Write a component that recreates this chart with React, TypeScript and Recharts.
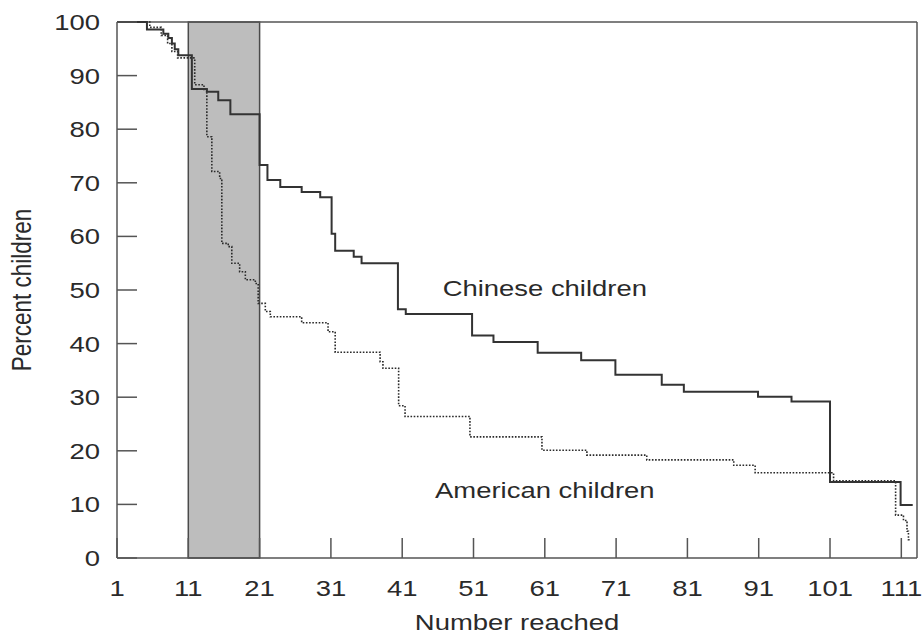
import React from "react";
import {
  LineChart,
  Line,
  XAxis,
  YAxis,
  ReferenceArea,
  ReferenceLine,
  ReferenceDot,
  Label,
} from "recharts";

// ---- data ----
const chineseReached = [1, 5.2, 7.5, 8.2, 8.7, 9.1, 9.6, 11.5, 13.6, 15.2, 16.9, 21, 22.1, 23.9, 26.9, 29.5, 31.1, 31.6, 34.2, 35.3, 40.4, 41.5, 50.8, 53.8, 60, 66.1, 70.9, 77.4, 80.5, 90.9, 95.6, 101, 110.9, 112.6];
const chinesePercent = [100, 98.6, 97.8, 97, 96, 94.9, 93.8, 87.5, 87, 85.4, 82.8, 73.3, 70.5, 69.2, 68.3, 67.3, 60.5, 57.3, 56.2, 55, 46.4, 45.5, 41.5, 40.3, 38.3, 36.9, 34.2, 32.3, 31, 30.1, 29.2, 14.2, 9.9, 9.9];

const americanReached = [1, 5.6, 7.2, 8.1, 8.7, 9.5, 11.9, 13.2, 13.6, 14.3, 15.4, 15.7, 16.6, 17.1, 18.2, 19.0, 20.4, 20.8, 21.8, 22.5, 26.9, 30.6, 31.6, 37.9, 38.3, 40.5, 41.4, 50.5, 60.6, 66.9, 75.3, 87.5, 90.5, 101.5, 110.2, 111.3, 111.8, 112.0, 112.3];
const americanPercent = [100, 99, 97.5, 96, 94.5, 93.3, 88.3, 87.4, 78.6, 72.1, 70.8, 58.7, 58.1, 55, 53.4, 51.9, 51.2, 47.5, 46, 45, 43.9, 42.2, 38.4, 36.6, 35.4, 28.4, 26.4, 22.6, 20.1, 19.2, 18.3, 17.3, 15.9, 14.4, 8.0, 7.0, 5.0, 3.4, 3.4];

const xTicks = [1, 11, 21, 31, 41, 51, 61, 71, 81, 91, 101, 111];
const yTicks = [0, 10, 20, 30, 40, 50, 60, 70, 80, 90, 100];
const shadedRange = [11, 21];
const xDomain = [1, 113.2];
const yDomain = [0, 100];

const chineseData = chineseReached.map((x, i) => ({ x, y: chinesePercent[i] }));
const americanData = americanReached.map((x, i) => ({ x, y: americanPercent[i] }));

// ---- styling helpers ----
const FONT = '"Liberation Sans", Arial, Helvetica, sans-serif';
const FS = 22.5;
const SX = 1.22;
const TEXT = "#2a2a2a";
const AXIS = "#555";

const StretchText = ({ x, y, anchor = "middle", rotate = 0, children }: any) => {
  const t = rotate
    ? `translate(${x},${y}) rotate(${rotate}) scale(1,${SX})`
    : `translate(${x},${y}) scale(${SX},1)`;
  return (
    <text transform={t} textAnchor={anchor} fontSize={FS} fontFamily={FONT} fill={TEXT}>
      {children}
    </text>
  );
};

const XTick = (props: any) => {
  const { x, y, payload } = props;
  return (
    <g>
      <line x1={x} y1={y} x2={x} y2={y - 20} stroke={AXIS} strokeWidth={1.5} />
      <StretchText x={x} y={y + 38} anchor="middle">
        {payload.value}
      </StretchText>
    </g>
  );
};

const YTick = (props: any) => {
  const { x, y, payload } = props;
  return (
    <g>
      <line x1={x} y1={y} x2={x + 20} y2={y} stroke={AXIS} strokeWidth={1.5} />
      <StretchText x={x - 17} y={y + 8} anchor="end">
        {payload.value}
      </StretchText>
    </g>
  );
};

const XTitle = (props: any) => {
  const { x, y, width } = props.viewBox;
  return (
    <StretchText x={x + width / 2} y={y + 72} anchor="middle">
      Number reached
    </StretchText>
  );
};

const YTitle = (props: any) => {
  const { x, y, height } = props.viewBox;
  return (
    <StretchText x={x + 31} y={y + height / 2} anchor="middle" rotate={-90}>
      Percent children
    </StretchText>
  );
};

const makeAnnotation = (text: string) => (props: any) => {
  const { x, y } = props.viewBox;
  return (
    <StretchText x={x} y={y + 8} anchor="middle">
      {text}
    </StretchText>
  );
};

export default function App() {
  return (
    <div style={{ position: "absolute", left: 0, top: 0, width: 923, height: 634, background: "#fff" }}>
      <LineChart width={923} height={634} margin={{ top: 22, right: 6, left: 0, bottom: 0 }}>
        <XAxis
          type="number"
          dataKey="x"
          domain={xDomain}
          ticks={xTicks}
          allowDataOverflow
          height={76}
          tickSize={0}
          tickMargin={0}
          tickLine={false}
          axisLine={{ stroke: AXIS, strokeWidth: 1.5 }}
          tick={<XTick />}
          interval={0}
        >
          <Label content={<XTitle />} />
        </XAxis>
        <YAxis
          type="number"
          dataKey="y"
          domain={yDomain}
          ticks={yTicks}
          width={117}
          tickSize={0}
          tickMargin={0}
          tickLine={false}
          axisLine={{ stroke: AXIS, strokeWidth: 1.5 }}
          tick={<YTick />}
          interval={0}
        >
          <Label content={<YTitle />} />
        </YAxis>
        <ReferenceArea
          x1={shadedRange[0]}
          x2={shadedRange[1]}
          y1={yDomain[0]}
          y2={yDomain[1]}
          fill="#bdbdbd"
          fillOpacity={1}
          stroke="#4a4a4a"
          strokeWidth={1.5}
        />
        <ReferenceLine y={yDomain[1]} stroke={AXIS} strokeWidth={1.5} />
        <ReferenceLine x={xDomain[1]} stroke={AXIS} strokeWidth={1.5} />
        <Line
          data={americanData}
          dataKey="y"
          type="stepAfter"
          stroke="#2a2a2a"
          strokeWidth={1.6}
          strokeDasharray="1.6 1.6"
          dot={false}
          activeDot={false}
          isAnimationActive={false}
        />
        <Line
          data={chineseData}
          dataKey="y"
          type="stepAfter"
          stroke="#333"
          strokeWidth={2}
          dot={false}
          activeDot={false}
          isAnimationActive={false}
        />
        <ReferenceDot x={61} y={50.4} r={0} fill="none" stroke="none">
          <Label content={makeAnnotation("Chinese children")} />
        </ReferenceDot>
        <ReferenceDot x={61} y={12.7} r={0} fill="none" stroke="none">
          <Label content={makeAnnotation("American children")} />
        </ReferenceDot>
      </LineChart>
    </div>
  );
}
